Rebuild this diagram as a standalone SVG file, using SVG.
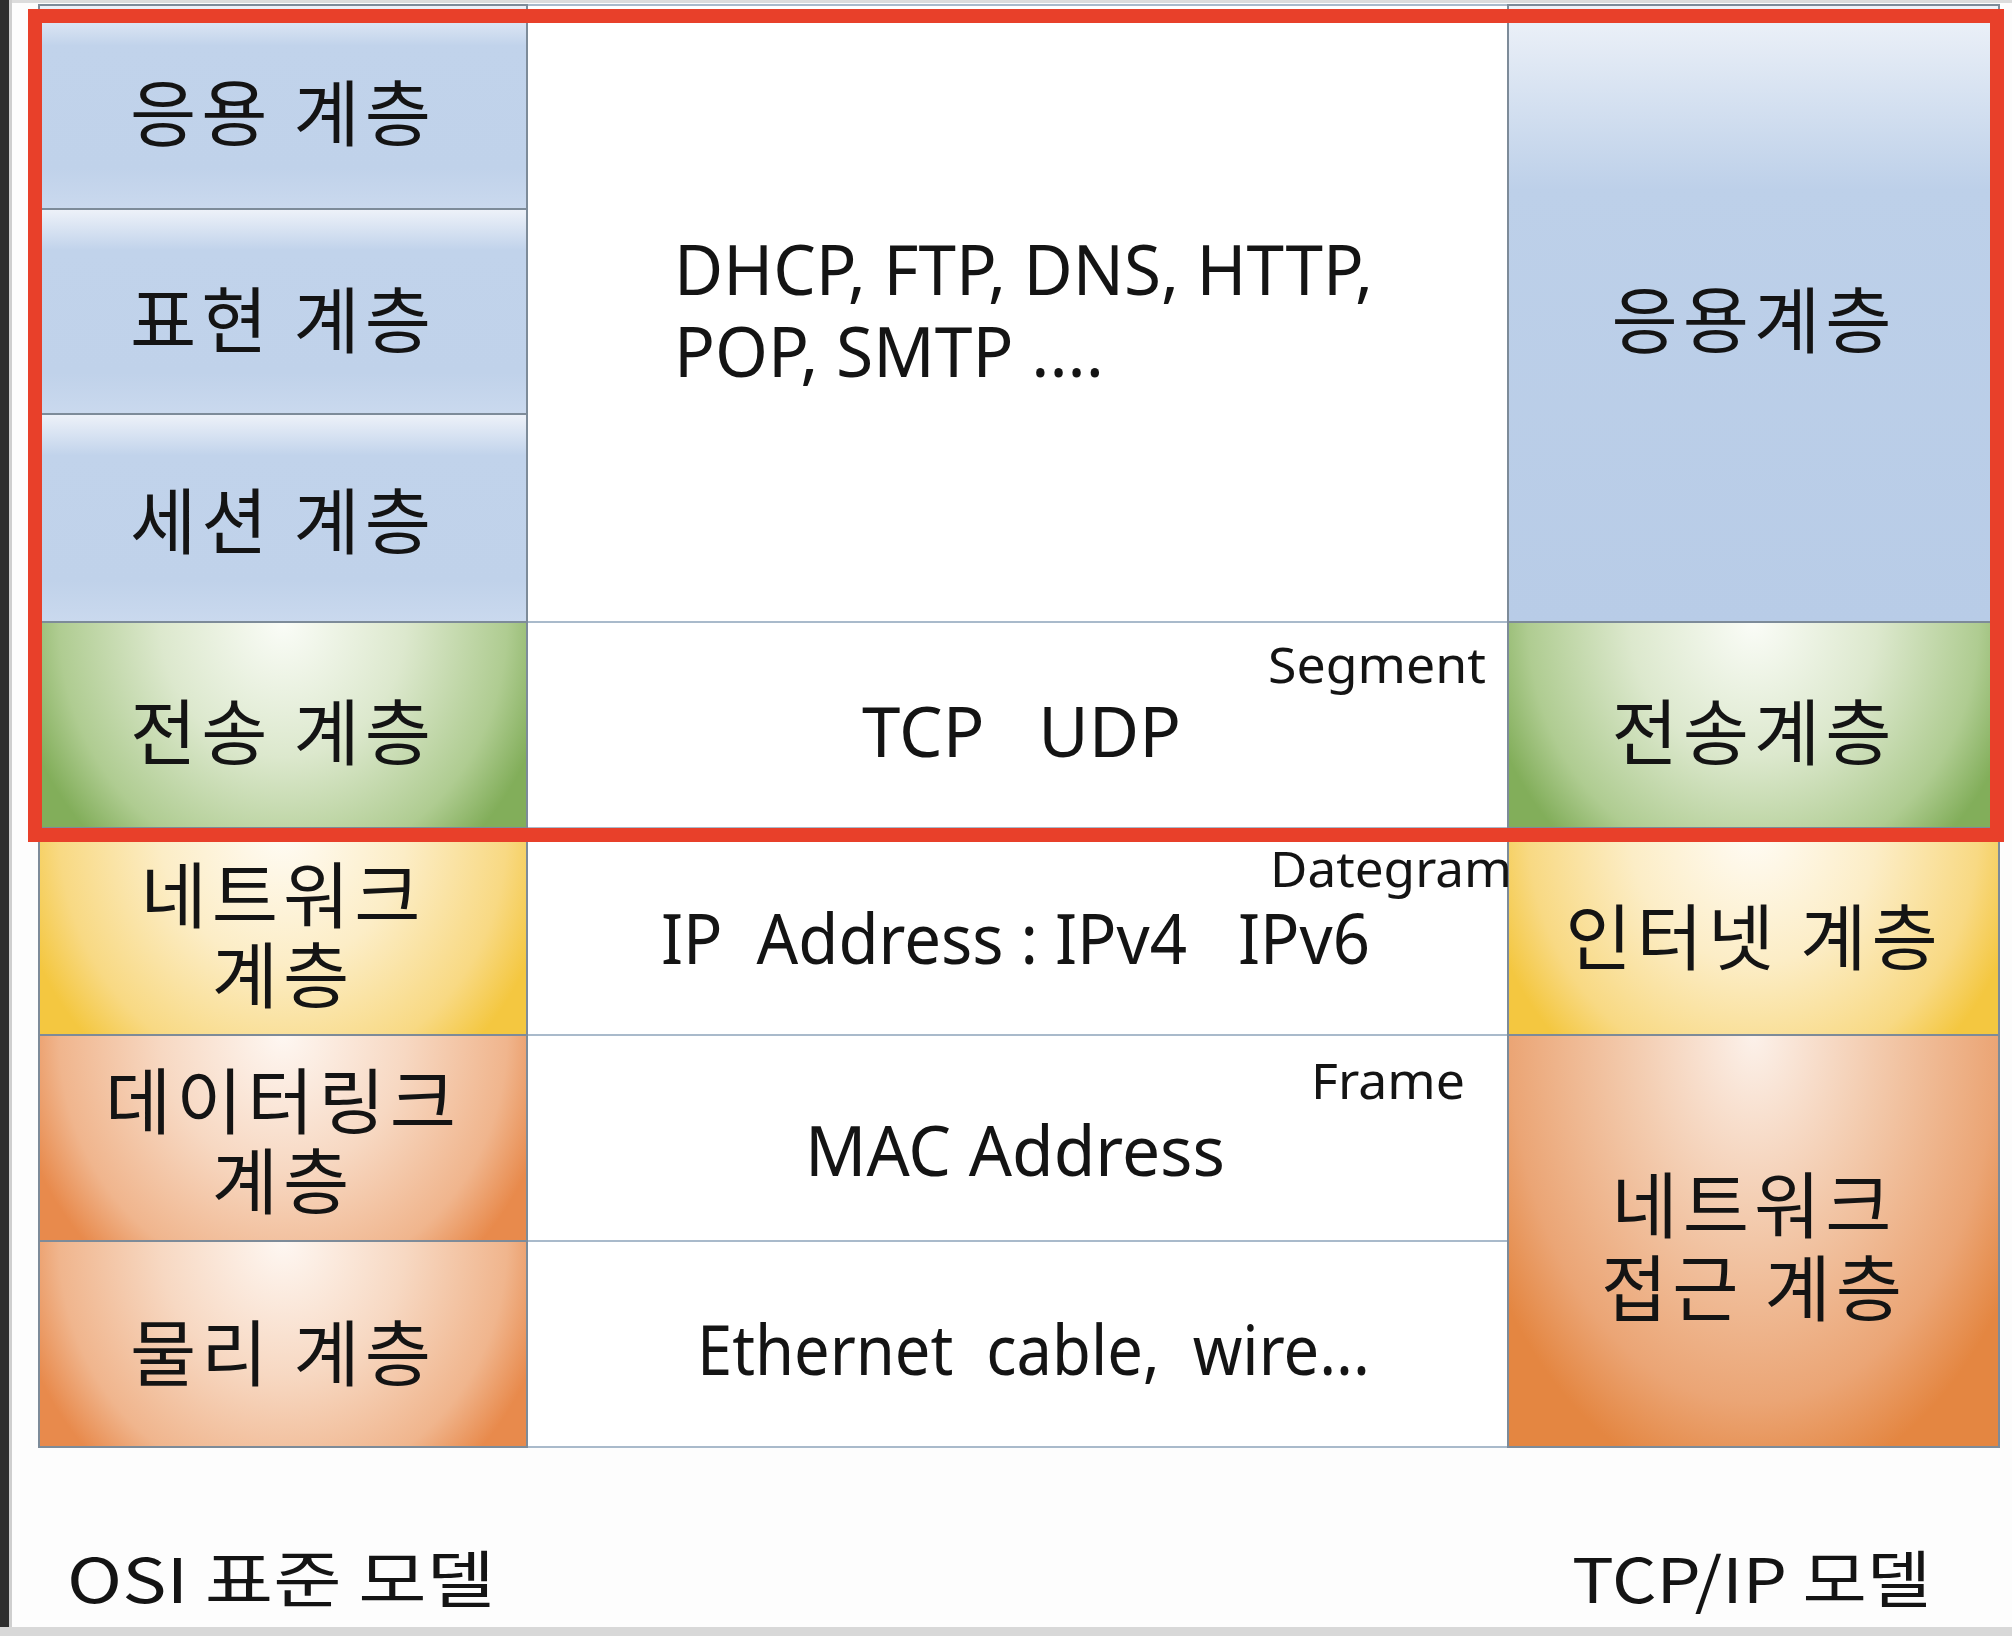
<svg xmlns="http://www.w3.org/2000/svg" width="2012" height="1636" viewBox="0 0 2012 1636">
<defs>
<style>
.cell{stroke:#7d8b99;stroke-width:2}
.ko{font-family:"Noto Sans CJK KR","Noto Sans",sans-serif;font-size:72px;letter-spacing:5px;fill:#141414;text-anchor:middle}
.en{font-family:"Noto Sans","Open Sans",sans-serif;fill:#141414}
.big{font-size:70px}
.small{font-size:50px}
.grid{stroke:#a9bacb;stroke-width:2}
</style>
<linearGradient id="gBlue" x1="0" y1="0" x2="0" y2="1">
<stop offset="0" stop-color="#eef2f9"/>
<stop offset="0.2" stop-color="#c1d3eb"/>
<stop offset="0.8" stop-color="#c0d2ea"/>
<stop offset="1" stop-color="#cad9ee"/>
</linearGradient>
<linearGradient id="gBlueTall" x1="0" y1="0" x2="0" y2="1">
<stop offset="0" stop-color="#eff3f9"/>
<stop offset="0.3" stop-color="#bdd0e9"/>
<stop offset="1" stop-color="#b8cce7"/>
</linearGradient>
<radialGradient id="gGreen" cx="0.5" cy="0" fx="0.5" fy="0" r="0.56" gradientTransform="translate(0.5,0) scale(1,2.6) translate(-0.5,0)">
<stop offset="0" stop-color="#fafcf7"/>
<stop offset="0.45" stop-color="#dce8cd"/>
<stop offset="0.82" stop-color="#afcc91"/>
<stop offset="1" stop-color="#82ae5a"/>
</radialGradient>
<radialGradient id="gYellow" cx="0.5" cy="0" fx="0.5" fy="0" r="0.56" gradientTransform="translate(0.5,0) scale(1,2.6) translate(-0.5,0)">
<stop offset="0" stop-color="#fffcf6"/>
<stop offset="0.45" stop-color="#fcedc6"/>
<stop offset="0.82" stop-color="#f8d983"/>
<stop offset="1" stop-color="#f4c740"/>
</radialGradient>
<radialGradient id="gOrange" cx="0.5" cy="0" fx="0.5" fy="0" r="0.56" gradientTransform="translate(0.5,0) scale(1,2.6) translate(-0.5,0)">
<stop offset="0" stop-color="#fef7f2"/>
<stop offset="0.45" stop-color="#f7d8c2"/>
<stop offset="0.82" stop-color="#f0b58d"/>
<stop offset="1" stop-color="#e88a4c"/>
</radialGradient>
<radialGradient id="gOrangeTall" cx="0.5" cy="0" fx="0.5" fy="0" r="0.62" gradientTransform="translate(0.5,0) scale(1,1.8) translate(-0.5,0)">
<stop offset="0" stop-color="#fcf1ea"/>
<stop offset="0.4" stop-color="#f3cbae"/>
<stop offset="0.8" stop-color="#eba575"/>
<stop offset="1" stop-color="#e48641"/>
</radialGradient>
</defs>
<rect x="0" y="0" width="2012" height="1636" fill="#fdfdfd"/>
<rect x="0" y="0" width="2012" height="3" fill="#dcdcdc"/>
<rect x="0" y="0" width="9" height="1636" fill="#2e2e2e"/>
<rect x="9" y="0" width="3" height="1636" fill="#cfcfcf"/>
<rect x="0" y="1627" width="2012" height="9" fill="#d8d8d8"/>

<g id="middle-column">
<rect x="527" y="5" width="981" height="1442" fill="#ffffff"/>
</g>
<g id="grid">
<line class="grid" x1="527" y1="5" x2="1508" y2="5"/>
<line class="grid" x1="527" y1="622" x2="1508" y2="622"/>
<line class="grid" x1="527" y1="828" x2="1508" y2="828"/>
<line class="grid" x1="527" y1="1035" x2="1508" y2="1035"/>
<line class="grid" x1="527" y1="1241" x2="1508" y2="1241"/>
<line class="grid" x1="527" y1="1447" x2="1508" y2="1447"/>
</g>

<g id="osi-application">
<rect class="cell" x="39" y="5" width="488" height="204" fill="url(#gBlue)"/>
<text class="ko" x="283" y="140">응용 계층</text>
</g>
<g id="osi-presentation">
<rect class="cell" x="39" y="209" width="488" height="205" fill="url(#gBlue)"/>
<text class="ko" x="283" y="347">표현 계층</text>
</g>
<g id="osi-session">
<rect class="cell" x="39" y="414" width="488" height="208" fill="url(#gBlue)"/>
<text class="ko" x="283" y="548">세션 계층</text>
</g>
<g id="osi-transport">
<rect class="cell" x="39" y="622" width="488" height="206" fill="url(#gGreen)"/>
<text class="ko" x="283" y="759">전송 계층</text>
</g>
<g id="osi-network">
<rect class="cell" x="39" y="828" width="488" height="207" fill="url(#gYellow)"/>
<text class="ko" x="283" y="922">네트워크<tspan x="283" dy="80">계층</tspan></text>
</g>
<g id="osi-datalink">
<rect class="cell" x="39" y="1035" width="488" height="206" fill="url(#gOrange)"/>
<text class="ko" x="283" y="1128">데이터링크<tspan x="283" dy="80">계층</tspan></text>
</g>
<g id="osi-physical">
<rect class="cell" x="39" y="1241" width="488" height="206" fill="url(#gOrange)"/>
<text class="ko" x="283" y="1380">물리 계층</text>
</g>

<g id="tcp-application">
<rect class="cell" x="1508" y="5" width="491" height="617" fill="url(#gBlueTall)"/>
<text class="ko" x="1754" y="347">응용계층</text>
</g>
<g id="tcp-transport">
<rect class="cell" x="1508" y="622" width="491" height="206" fill="url(#gGreen)"/>
<text class="ko" x="1754" y="759">전송계층</text>
</g>
<g id="tcp-internet">
<rect class="cell" x="1508" y="828" width="491" height="207" fill="url(#gYellow)"/>
<text class="ko" x="1754" y="964">인터넷 계층</text>
</g>
<g id="tcp-network-access">
<rect class="cell" x="1508" y="1035" width="491" height="412" fill="url(#gOrangeTall)"/>
<text class="ko" x="1754" y="1232">네트워크<tspan x="1754" dy="83">접근 계층</tspan></text>
</g>

<g id="protocols-app">
<text class="en big" x="674" y="295" textLength="699" lengthAdjust="spacingAndGlyphs">DHCP, FTP, DNS,  HTTP,</text>
<text class="en big" x="674" y="377" textLength="430" lengthAdjust="spacingAndGlyphs">POP, SMTP ....</text>
</g>
<g id="protocols-transport">
<text class="en big" x="862" y="757" textLength="319" lengthAdjust="spacingAndGlyphs" style="white-space:pre">TCP   UDP</text>
<text class="en small" x="1268" y="683" textLength="218" lengthAdjust="spacingAndGlyphs">Segment</text>
</g>
<g id="protocols-network">
<text class="en small" x="1270" y="887" textLength="242" lengthAdjust="spacingAndGlyphs">Dategram</text>
<text class="en big" x="661" y="964" textLength="709" lengthAdjust="spacingAndGlyphs" style="white-space:pre">IP  Address : IPv4   IPv6</text>
</g>
<g id="protocols-datalink">
<text class="en small" x="1311" y="1099" textLength="154" lengthAdjust="spacingAndGlyphs">Frame</text>
<text class="en big" x="805" y="1176" textLength="420" lengthAdjust="spacingAndGlyphs">MAC Address</text>
</g>
<g id="protocols-physical">
<text class="en big" x="697" y="1375" textLength="673" lengthAdjust="spacingAndGlyphs" style="white-space:pre">Ethernet  cable,  wire...</text>
</g>

<g id="model-labels">
<text class="ko" x="67" y="1603" style="text-anchor:start;font-size:62px;letter-spacing:0" textLength="428" lengthAdjust="spacingAndGlyphs">OSI 표준 모델</text>
<text class="ko" x="1572" y="1603" style="text-anchor:start;font-size:62px;letter-spacing:0" textLength="359" lengthAdjust="spacingAndGlyphs">TCP/IP 모델</text>
</g>

<g id="highlight">
<rect x="35" y="16" width="1962" height="819" fill="none" stroke="#e8402a" stroke-width="14"/>
</g>
</svg>
